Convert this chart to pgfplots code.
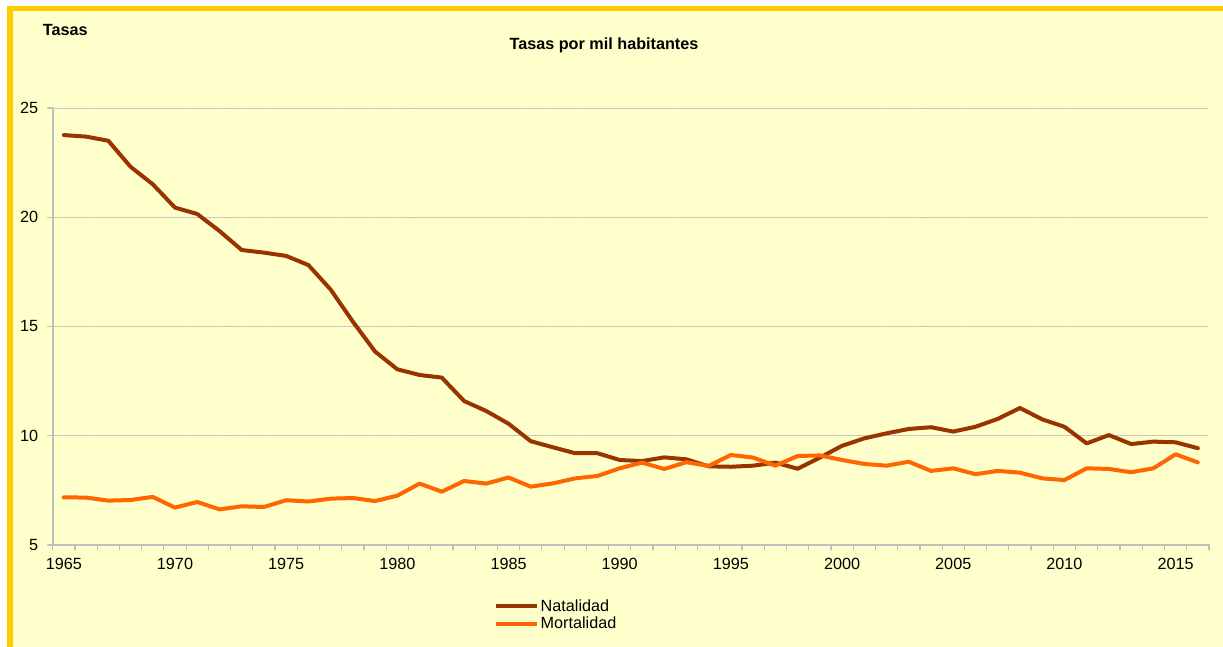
\documentclass[border=0pt]{standalone}
\usepackage{pgfplots}
\pgfplotsset{compat=1.18}
\usepackage{fontspec}
\setmainfont{Liberation Sans}
\definecolor{bgyel}{HTML}{FFFFCC}
\definecolor{gold}{HTML}{FFCC00}
\definecolor{nat}{HTML}{993300}
\definecolor{mort}{HTML}{FF6600}
\definecolor{axgray}{HTML}{BFBFBF}
\begin{document}
\begin{tikzpicture}[x=1bp,y=1bp]
\useasboundingbox (0,0) rectangle (1223,647);
\fill[white] (0,0) rectangle (1223,647);
\fill[bgyel] (7,0) rectangle (1223,641);
\fill[gold] (7,0) rectangle (12.5,641);
\fill[gold] (7,635.5) rectangle (1223,641);
\node[font=\fontsize{16.2bp}{19bp}\selectfont\bfseries, anchor=west, inner sep=0pt] at (42.7,617) {Tasas};
\node[font=\fontsize{16.2bp}{19bp}\selectfont\bfseries] at (604,602) {Tasas por mil habitantes};
\begin{axis}[
  at={(52.7bp,102bp)}, anchor=south west,
  scale only axis, width=1156.3bp, height=437bp,
  xmin=1964.5, xmax=2016.5, ymin=5, ymax=25,
  axis x line=bottom, axis y line=left,
  axis line style={draw=axgray, line width=1.6bp, -},
  xtick={1964.5,1965.5,...,2016.5}, xticklabels={},
  extra x ticks={1965,1970,...,2015},
  extra x tick style={major tick length=0pt},
  ytick={5,10,...,25},
  tick align=outside, major tick length=5bp,
  tick style={draw=axgray, line width=1.2bp},
  ymajorgrids,
  major grid style={draw=gray!55, densely dotted, line width=0.7bp},
  /pgf/number format/assume math mode=true,
  /pgf/number format/1000 sep={},
  ticklabel style={font=\fontsize{16.2bp}{19bp}\selectfont},
  xticklabel style={yshift=-10bp},
  yticklabel style={xshift=-6bp},
  legend style={at={(axis description cs:0.3791,-0.117)}, anchor=north west,
    draw=none, fill=none, font=\fontsize{16.2bp}{19bp}\selectfont,
    row sep=1bp, nodes={inner sep=1.5bp}},
  legend cell align=left,
  legend image code/.code={\draw[#1, line width=4bp] (0bp,0bp) -- (41bp,0bp);},
  line join=round, line cap=round,
]
\addplot[color=nat, line width=4bp, mark=none] coordinates {
(1965,23.76)(1966,23.69)(1967,23.50)(1968,22.31)(1969,21.51)(1970,20.44)
(1971,20.15)(1972,19.37)(1973,18.50)(1974,18.38)(1975,18.23)(1976,17.81)
(1977,16.69)(1978,15.22)(1979,13.85)(1980,13.04)(1981,12.78)(1982,12.66)
(1983,11.59)(1984,11.13)(1985,10.55)(1986,9.75)(1987,9.47)(1988,9.20)
(1989,9.20)(1990,8.89)(1991,8.84)(1992,9.01)(1993,8.92)(1994,8.60)
(1995,8.58)(1996,8.63)(1997,8.77)(1998,8.49)(1999,9.00)(2000,9.54)
(2001,9.88)(2002,10.11)(2003,10.31)(2004,10.39)(2005,10.19)(2006,10.41)
(2007,10.77)(2008,11.27)(2009,10.75)(2010,10.41)(2011,9.65)(2012,10.03)
(2013,9.62)(2014,9.73)(2015,9.70)(2016,9.43)};
\addlegendentry{Natalidad}
\addplot[color=mort, line width=4bp, mark=none] coordinates {
(1965,7.18)(1966,7.17)(1967,7.03)(1968,7.06)(1969,7.20)(1970,6.71)
(1971,6.97)(1972,6.63)(1973,6.77)(1974,6.74)(1975,7.05)(1976,6.99)
(1977,7.12)(1978,7.15)(1979,7.01)(1980,7.26)(1981,7.81)(1982,7.44)
(1983,7.93)(1984,7.81)(1985,8.09)(1986,7.67)(1987,7.82)(1988,8.05)
(1989,8.16)(1990,8.51)(1991,8.77)(1992,8.48)(1993,8.79)(1994,8.62)
(1995,9.12)(1996,9.00)(1997,8.63)(1998,9.07)(1999,9.10)(2000,8.89)
(2001,8.71)(2002,8.63)(2003,8.81)(2004,8.39)(2005,8.51)(2006,8.24)
(2007,8.39)(2008,8.31)(2009,8.05)(2010,7.97)(2011,8.51)(2012,8.48)
(2013,8.33)(2014,8.51)(2015,9.15)(2016,8.78)};
\addlegendentry{Mortalidad}
\end{axis}
\end{tikzpicture}
\end{document}
